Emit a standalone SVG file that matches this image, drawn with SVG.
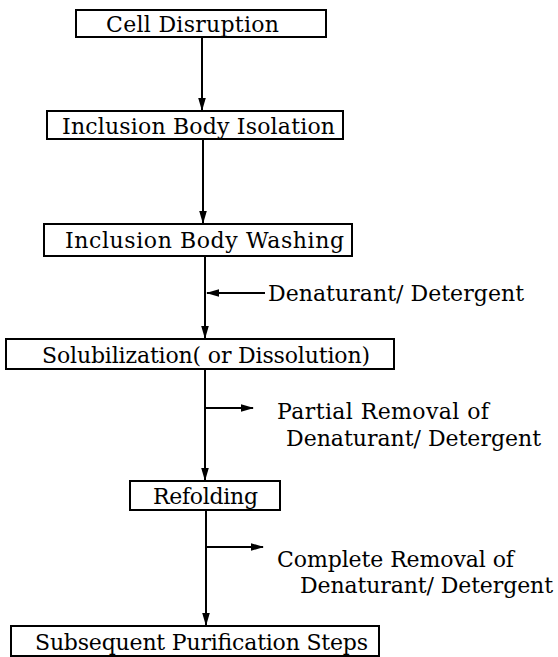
<svg xmlns="http://www.w3.org/2000/svg" width="558" height="657" viewBox="0 0 558 657">
<style>
.box{fill:#fff;stroke:#000;stroke-width:2}
.c{stroke:#000;stroke-width:2;fill:none}
text{font-family:'DejaVu Serif','Liberation Serif',serif;font-size:22px;fill:#000}
</style>
<defs>
<marker id="ah" markerWidth="13" markerHeight="10" refX="12" refY="5" orient="auto" markerUnits="userSpaceOnUse">
<path d="M0,1.2 L13,5 L0,8.8 Z" fill="#000"/>
</marker>
</defs>
<rect width="558" height="657" fill="#fff"/>
<g id="connectors">
<line class="c" x1="202" y1="37" x2="202" y2="110" marker-end="url(#ah)"/>
<line class="c" x1="203" y1="140" x2="203" y2="223" marker-end="url(#ah)"/>
<line class="c" x1="205" y1="257" x2="205" y2="338" marker-end="url(#ah)"/>
<line class="c" x1="205" y1="370" x2="205" y2="480" marker-end="url(#ah)"/>
<line class="c" x1="206" y1="511" x2="206" y2="625" marker-end="url(#ah)"/>
<line class="c" x1="265" y1="293" x2="207" y2="293" marker-end="url(#ah)"/>
<line class="c" x1="205" y1="408" x2="253" y2="408" marker-end="url(#ah)"/>
<line class="c" x1="206" y1="547" x2="263" y2="547" marker-end="url(#ah)"/>
</g>
<g id="cell-disruption">
<rect class="box" x="76" y="10" width="250" height="27"/>
<text x="106" y="32" textLength="173" lengthAdjust="spacing">Cell Disruption</text>
</g>
<g id="ib-isolation">
<rect class="box" x="47" y="111" width="296" height="28"/>
<text x="62" y="134" textLength="273" lengthAdjust="spacing">Inclusion Body Isolation</text>
</g>
<g id="ib-washing">
<rect class="box" x="44" y="224" width="308" height="32"/>
<text x="65" y="248" textLength="279" lengthAdjust="spacing">Inclusion Body Washing</text>
</g>
<g id="label-denaturant">
<text x="268" y="301" textLength="256" lengthAdjust="spacing">Denaturant/ Detergent</text>
</g>
<g id="solubilization">
<rect class="box" x="6" y="339" width="388" height="30"/>
<text x="42" y="363" textLength="328" lengthAdjust="spacing">Solubilization( or Dissolution)</text>
</g>
<g id="label-partial">
<text x="277" y="419" textLength="212" lengthAdjust="spacing">Partial Removal of</text>
<text x="286" y="446" textLength="255" lengthAdjust="spacing">Denaturant/ Detergent</text>
</g>
<g id="refolding">
<rect class="box" x="130" y="481" width="150" height="29"/>
<text x="153" y="504" textLength="105" lengthAdjust="spacing">Refolding</text>
</g>
<g id="label-complete">
<text x="277" y="567" textLength="237" lengthAdjust="spacing">Complete Removal of</text>
<text x="300" y="593" textLength="253" lengthAdjust="spacing">Denaturant/ Detergent</text>
</g>
<g id="subsequent">
<rect class="box" x="11" y="626" width="368" height="30"/>
<text x="35" y="650" textLength="333" lengthAdjust="spacing">Subsequent Purification Steps</text>
</g>
</svg>
